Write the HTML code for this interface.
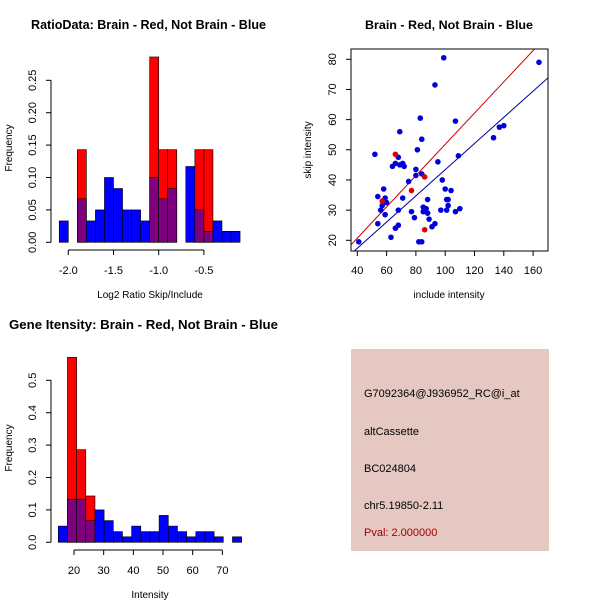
<!DOCTYPE html>
<html><head><meta charset="utf-8"><style>
body{margin:0;background:#fff}
svg{display:block;font-family:"Liberation Sans",sans-serif}
</style></head><body>
<svg id="c" width="600" height="600" xmlns="http://www.w3.org/2000/svg">
<rect x="0" y="0" width="600" height="600" fill="#fff"/>
<text x="31" y="29" font-size="12.5" font-weight="bold" textLength="235" lengthAdjust="spacingAndGlyphs">RatioData: Brain - Red, Not Brain - Blue</text>
<text x="365" y="29" font-size="12" font-weight="bold" textLength="168" lengthAdjust="spacingAndGlyphs">Brain - Red, Not Brain - Blue</text>
<text x="9" y="329" font-size="12.8" font-weight="bold" textLength="269" lengthAdjust="spacingAndGlyphs">Gene Itensity: Brain - Red, Not Brain - Blue</text>
<g id="g1"></g>
<g id="g2"></g>
<g id="g3"></g>
<g>
<rect x="351" y="349" width="198" height="202" fill="#E6C8C2"/>
<g font-size="11">
<text x="364" y="397">G7092364@J936952_RC@i_at</text>
<text x="364" y="435">altCassette</text>
<text x="364" y="472">BC024804</text>
<text x="364" y="509">chr5.19850-2.11</text>
<text x="364" y="536" fill="#A00000">Pval: 2.000000</text>
</g></g>
</svg>
<script>
// Ratio histogram data
const ratioBinStart = -2.1, ratioBinWidth = 0.1;
const ratioBlue = [0.033,0,0.067,0.033,0.05,0.10,0.083,0.05,0.05,0.033,0.10,0.067,0.083,0,0.117,0.05,0.017,0.033,0.017,0.017];
const ratioRed  = [0,0,0.143,0,0,0,0,0,0,0,0.286,0.143,0.143,0,0,0.143,0.143,0,0,0];
const ratioXTicks = [-2.0,-1.5,-1.0,-0.5];
const ratioYTicks = [0.00,0.05,0.10,0.15,0.20,0.25];
// Intensity histogram data
const intBinStart = 14.7, intBinWidth = 3.09;
const intBlue = [0.05,0.133,0.133,0.067,0.10,0.067,0.033,0.017,0.05,0.033,0.033,0.083,0.05,0.033,0.017,0.033,0.033,0.017,0,0.017];
const intRed  = [0,0.571,0.286,0.143,0,0,0,0,0,0,0,0,0,0,0,0,0,0,0,0];
const intXTicks = [20,30,40,50,60,70];
const intYTicks = [0.0,0.1,0.2,0.3,0.4,0.5];
// Scatter data
const blueX = [41,52,54,54,56,57,58,59,59,60,63,64,66,66,68,68,68,69,69,71,71,72,75,77,79,80,80,81,82,83,84,84,84,85,85,87,87,88,88,89,91,93,93,95,97,98,99,100,101,101,102,102,104,107,107,109,110,133,137,140,164];
const blueY = [19.5,48.5,34.5,25.5,30,31.5,37,34,28.5,32.5,21,44.5,24,45.5,47.5,25,30,45,56,45.5,34,44.5,39.5,29.5,27.5,41.5,43.5,50,19.5,60.5,19.5,42,53.5,31,29.5,30.5,29.5,29,33.5,27,24.5,71.5,25.5,46,30,40,80.5,37,33.5,30,31.5,33.5,36.5,59.5,29.5,48,30.5,54,57.5,58,79];
const redX = [57,66,77,86,86];
const redY = [33,48.5,36.5,41,23.5];
const redSlope = 0.518, blueSlope = 0.434;
const scXTicks = [40,60,80,100,120,140,160];
const scYTicks = [20,30,40,50,60,70,80];

const NS='http://www.w3.org/2000/svg';
function mk(p,t,a){const e=document.createElementNS(NS,t);for(const k in a)e.setAttribute(k,a[k]);p.appendChild(e);return e;}

function hist(g,o){
  const X=v=>o.x0+(v-o.xv0)*o.xs, Y=v=>o.y0-v*o.ys;
  for(let i=0;i<o.blue.length;i++){
    const a=o.start+i*o.w,b=a+o.w,bl=o.blue[i],rd=o.red[i];
    if(rd>0){const r=mk(g,'rect',{x:X(a),y:Y(rd),width:X(b)-X(a),height:Y(0)-Y(rd),fill:'#FF0000',stroke:'#000','stroke-width':0.6});
      
      }
    if(bl>0){const c=rd>0?'#7F007F':'#0000FF';const h=rd>0?Math.min(bl,rd):bl;
      const r=mk(g,'rect',{x:X(a),y:Y(h),width:X(b)-X(a),height:Y(0)-Y(h),fill:c,stroke:'#000','stroke-width':0.6});
      
      }
  }
  const xt=o.xt, yt=o.yt;
  mk(g,'line',{x1:X(xt[0]),x2:X(xt[xt.length-1]),y1:o.axY,y2:o.axY,stroke:'#000'});
  xt.forEach(v=>{mk(g,'line',{x1:X(v),x2:X(v),y1:o.axY,y2:o.axY+5,stroke:'#000'});
    const t=mk(g,'text',{x:X(v),y:o.axY+24,'font-size':11,'text-anchor':'middle'});t.textContent=o.fx(v);
    
    });
  mk(g,'line',{x1:o.axX,x2:o.axX,y1:Y(yt[0]),y2:Y(yt[yt.length-1]),stroke:'#000'});
  yt.forEach(v=>{mk(g,'line',{x1:o.axX,x2:o.axX-5,y1:Y(v),y2:Y(v),stroke:'#000'});
    const t=mk(g,'text',{x:0,y:0,'font-size':11,'text-anchor':'middle',transform:`translate(${o.axX-15},${Y(v)}) rotate(-90)`});t.textContent=o.fy(v);
    
    });
  const xl=mk(g,'text',{x:o.xlX,y:o.xlY,'font-size':10,'text-anchor':'middle'});xl.textContent=o.xl;
  
  
  const yl=mk(g,'text',{x:0,y:0,'font-size':10,'text-anchor':'middle',transform:`translate(12,${o.ylY}) rotate(-90)`});yl.textContent='Frequency';
  
  
}
hist(document.getElementById('g1'),{blue:ratioBlue,red:ratioRed,start:ratioBinStart,w:ratioBinWidth,x0:68.3,xv0:-2.0,xs:90.4,y0:242.3,ys:648,
  xt:ratioXTicks,yt:ratioYTicks,axY:250,axX:51,fx:v=>v.toFixed(1),fy:v=>v.toFixed(2),xl:'Log2 Ratio Skip/Include',xlX:150,xlY:298,ylY:148});
hist(document.getElementById('g3'),{blue:intBlue,red:intRed,start:intBinStart,w:intBinWidth,x0:74,xv0:20,xs:2.967,y0:542.3,ys:324,
  xt:intXTicks,yt:intYTicks,axY:550,axX:51,fx:v=>String(v),fy:v=>v.toFixed(1),xl:'Intensity',xlX:150,xlY:598,ylY:448});

(function(){
  const g=document.getElementById('g2');
  const X=v=>357.3+(v-40)*1.465, Y=v=>240.3-(v-20)*3.017;
  const L=351,R=548,T=49,B=251;
  mk(g,'defs',{}).innerHTML='<clipPath id="sc"><rect x="351" y="49" width="197" height="202"/></clipPath>';
  const cl=mk(g,'g',{'clip-path':'url(#sc)'});
  const xa=(L-357.3)/1.465+40, xb=(R-357.3)/1.465+40;
  const rl=mk(cl,'line',{x1:X(xa),y1:Y(redSlope*xa),x2:X(xb),y2:Y(redSlope*xb),stroke:'#CC0000','stroke-width':1});
  
  
  const bl=mk(cl,'line',{x1:X(xa),y1:Y(blueSlope*xa),x2:X(xb),y2:Y(blueSlope*xb),stroke:'#000099','stroke-width':1});
  
  
  blueX.forEach((x,i)=>{const c=mk(cl,'circle',{cx:X(x),cy:Y(blueY[i]),r:2.8,fill:'#0000DD'});
    
    });
  redX.forEach((x,i)=>{const c=mk(cl,'circle',{cx:X(x),cy:Y(redY[i]),r:2.8,fill:'#DD0000'});
    
    });
  mk(g,'rect',{x:L,y:T,width:R-L,height:B-T,fill:'none',stroke:'#000'});
  scXTicks.forEach(v=>{mk(g,'line',{x1:X(v),x2:X(v),y1:B,y2:B+5,stroke:'#000'});
    const t=mk(g,'text',{x:X(v),y:B+23,'font-size':11,'text-anchor':'middle'});t.textContent=v;
    
    });
  scYTicks.forEach(v=>{mk(g,'line',{x1:L,x2:L-5,y1:Y(v),y2:Y(v),stroke:'#000'});
    const t=mk(g,'text',{x:0,y:0,'font-size':11,'text-anchor':'middle',transform:`translate(${L-15},${Y(v)}) rotate(-90)`});t.textContent=v;
    
    });
  const xl=mk(g,'text',{x:449,y:298,'font-size':10,'text-anchor':'middle'});xl.textContent='include intensity';
  
  
  const yl=mk(g,'text',{x:0,y:0,'font-size':10,'text-anchor':'middle',transform:'translate(311,150) rotate(-90)'});yl.textContent='skip intensity';
  
  
})();
</script>
</body></html>
